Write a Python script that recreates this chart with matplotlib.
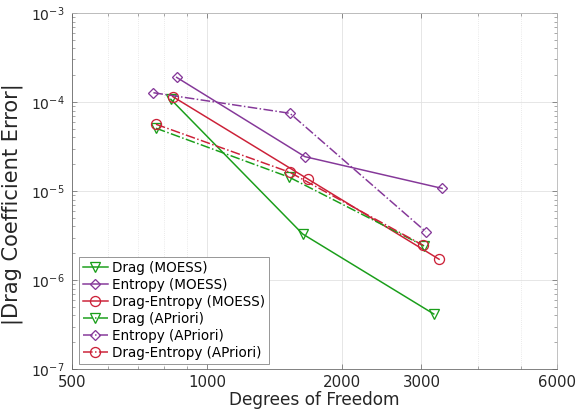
import matplotlib
matplotlib.use("Agg")
import matplotlib.pyplot as plt
from matplotlib.ticker import FixedLocator, NullFormatter, LogLocator

# Data
drag_moess_x = [830, 1631, 3195]
drag_moess_y = [1.07e-4, 3.29e-6, 4.15e-7]
ent_moess_x = [855, 1650, 3334]
ent_moess_y = [1.89e-4, 2.43e-5, 1.07e-5]
de_moess_x = [838, 1676, 3283]
de_moess_y = [1.15e-4, 1.36e-5, 1.71e-6]
drag_ap_x = [769, 1522, 3040]
drag_ap_y = [5.07e-5, 1.43e-5, 2.41e-6]
ent_ap_x = [759, 1528, 3067]
ent_ap_y = [1.27e-4, 7.46e-5, 3.49e-6]
de_ap_x = [769, 1528, 3025]
de_ap_y = [5.62e-5, 1.62e-5, 2.45e-6]

xticks = [500, 1000, 2000, 3000, 6000]
xticklabels = ["500", "1000", "2000", "3000", "6000"]

green = (0.1, 0.62, 0.1)
purple = (0.52, 0.22, 0.6)
red = (0.8, 0.13, 0.22)

plt.rcParams['font.family'] = ['DejaVu Sans']
fig = plt.figure(figsize=(8, 5.75), dpi=72)
ax = fig.add_axes([0.125, 0.1087, 0.8415, 0.86])

base = dict(markerfacecolor='none', markeredgewidth=1.3, linewidth=1.5)
ax.plot(drag_moess_x, drag_moess_y, '-', marker='v', markersize=10, color=green, label='Drag (MOESS)', **base)
ax.plot(ent_moess_x, ent_moess_y, '-', marker='D', markersize=6.5, color=purple, label='Entropy (MOESS)', **base)
ax.plot(de_moess_x, de_moess_y, '-', marker='o', markersize=10, color=red, label='Drag-Entropy (MOESS)', **base)
ax.plot(drag_ap_x, drag_ap_y, '-.', marker='v', markersize=10, color=green, label='Drag (APriori)', **base)
ax.plot(ent_ap_x, ent_ap_y, '-.', marker='D', markersize=6.5, color=purple, label='Entropy (APriori)', **base)
ax.plot(de_ap_x, de_ap_y, '-.', marker='o', markersize=10, color=red, label='Drag-Entropy (APriori)', **base)

ax.set_xscale('log')
ax.set_yscale('log')
ax.set_xlim(500, 6000)
ax.set_ylim(1e-7, 1e-3)

ax.xaxis.set_major_locator(FixedLocator(xticks))
ax.set_xticklabels(xticklabels)
ax.xaxis.set_minor_locator(FixedLocator([600, 700, 800, 900, 4000, 5000]))
ax.xaxis.set_minor_formatter(NullFormatter())
ax.yaxis.set_major_locator(LogLocator(base=10, numticks=10))
ax.yaxis.set_minor_locator(LogLocator(base=10, subs=range(2, 10), numticks=20))
ax.yaxis.set_minor_formatter(NullFormatter())

ax.grid(True, which='major', color=(0.88, 0.88, 0.88), linewidth=0.8, linestyle='-')
ax.xaxis.grid(True, which='minor', color=(0.88, 0.88, 0.88), linewidth=0.8, linestyle=':')
ax.set_axisbelow(True)

ax.tick_params(which='both', direction='in', top=True, right=True, colors=(0.45, 0.45, 0.45),
               labelcolor=(0.15, 0.15, 0.15))
ax.tick_params(axis='x', which='major', labelsize=15, pad=6)
ax.tick_params(axis='y', which='major', labelsize=14, pad=7)
ax.tick_params(which='major', length=5)
ax.tick_params(which='minor', length=3)
for s in ['left', 'bottom']:
    ax.spines[s].set_color((0.4, 0.4, 0.4))
for s in ['top', 'right']:
    ax.spines[s].set_color((0.7, 0.7, 0.7))

ax.set_xlabel('Degrees of Freedom', fontsize=17, color=(0.15, 0.15, 0.15), labelpad=1)
ax.set_ylabel('|Drag Coefficient Error|', fontsize=21, color=(0.15, 0.15, 0.15))
ax.yaxis.set_label_coords(-0.101, 0.463)

leg = ax.legend(loc='lower left', bbox_to_anchor=(0.015, 0.014), borderaxespad=0,
                fontsize=13.5, handlelength=1.8, handletextpad=0.3,
                borderpad=0.3, labelspacing=0.22, fancybox=False,
                framealpha=1, edgecolor=(0.5, 0.5, 0.5))
leg.get_frame().set_linewidth(0.8)

fig.savefig('out.png', dpi=72)
